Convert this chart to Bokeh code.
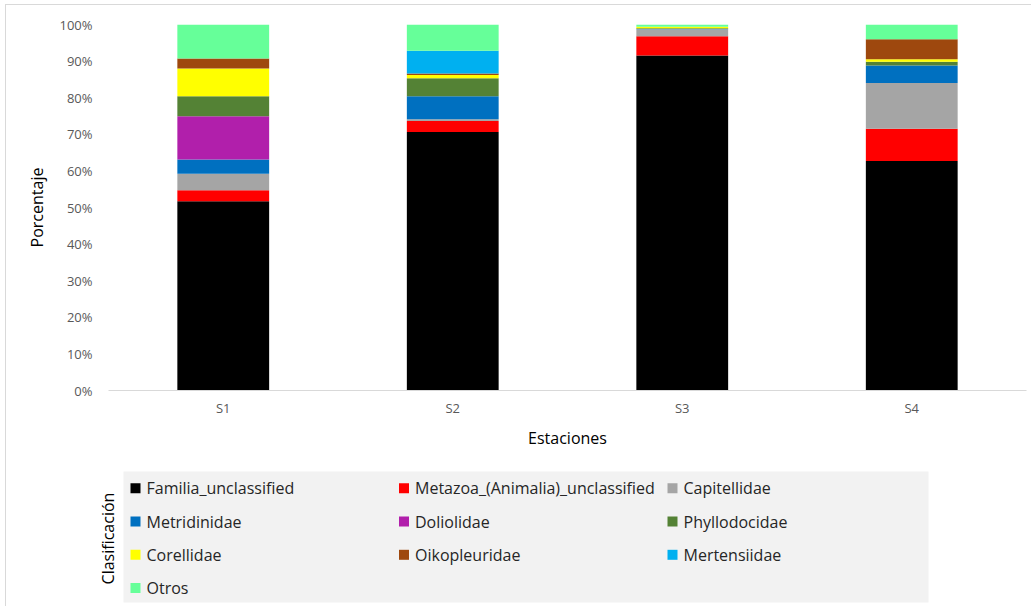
from bokeh.plotting import figure
from bokeh.layouts import column
from bokeh.models import (Label, PrintfTickFormatter, FixedTicker,
                          ColumnDataSource, Range1d, BoxAnnotation)
from bokeh.embed import file_html
from bokeh.resources import INLINE

# Stations and their composition (% of reads) by family
stations = ["S1", "S2", "S3", "S4"]
families = [
    "Familia_unclassified",
    "Metazoa_(Animalia)_unclassified",
    "Capitellidae",
    "Metridinidae",
    "Doliolidae",
    "Phyllodocidae",
    "Corellidae",
    "Oikopleuridae",
    "Mertensiidae",
    "Otros",
]
familia_unclassified = [51.7, 70.6, 91.5, 62.7]
metazoa_unclassified = [3.0, 3.0, 5.3, 8.8]
capitellidae = [4.5, 0.5, 1.9, 12.5]
metridinidae = [3.9, 6.3, 0.1, 4.8]
doliolidae = [11.8, 0.0, 0.0, 0.0]
phyllodocidae = [5.5, 4.9, 0.2, 1.0]
corellidae = [7.6, 0.9, 0.4, 0.7]
oikopleuridae = [2.7, 0.4, 0.0, 5.5]
mertensiidae = [0.0, 6.2, 0.0, 0.0]
otros = [9.3, 7.2, 0.6, 4.0]

colors = ["#000000", "#ff0000", "#a5a5a5", "#0070c0", "#b11fab",
          "#548235", "#ffff00", "#9e480e", "#00b0f0", "#66ff99"]

series = [familia_unclassified, metazoa_unclassified, capitellidae, metridinidae,
          doliolidae, phyllodocidae, corellidae, oikopleuridae, mertensiidae, otros]
keys = [f"s{i}" for i in range(len(families))]
data = {"station": stations}
for k, vals in zip(keys, series):
    data[k] = vals
source = ColumnDataSource(data)

FONT = "Open Sans"
W = 1026

# ---- stacked bar chart ----
p = figure(
    x_range=stations, y_range=(0, 100),
    width=W, height=450,
    min_border_left=102, min_border_right=6,
    min_border_top=19, min_border_bottom=65,
    output_backend="svg", toolbar_location=None,
)
p.frame_align = False
p.outline_line_color = None
p.grid.grid_line_color = None

p.vbar_stack(keys, x="station", width=0.4, color=colors,
             line_color=None, source=source)

p.yaxis.ticker = FixedTicker(ticks=list(range(0, 101, 10)))
p.yaxis.formatter = PrintfTickFormatter(format="%d%%")
p.yaxis.axis_line_color = None
p.yaxis.major_tick_line_color = None
p.yaxis.minor_tick_line_color = None
p.yaxis.major_label_standoff = 10
p.yaxis.axis_label = "Porcentaje"
p.yaxis.axis_label_standoff = 8

p.xaxis.axis_line_color = "#d9d9d9"
p.xaxis.major_tick_line_color = None
p.xaxis.major_label_standoff = 2
p.xaxis.axis_label = "Estaciones"
p.xaxis.axis_label_standoff = 7

for ax in (p.xaxis, p.yaxis):
    ax.major_label_text_font = FONT
    ax.major_label_text_font_size = "13px"
    ax.major_label_text_color = "#595959"
    ax.axis_label_text_font = FONT
    ax.axis_label_text_font_size = "16px"
    ax.axis_label_text_font_style = "normal"
    ax.axis_label_text_color = "#000000"

# ---- legend panel (pixel coordinates, origin bottom-left) ----
LH = 152
lg = figure(
    width=W, height=LH,
    x_range=Range1d(0, W), y_range=Range1d(0, LH),
    x_axis_location=None, y_axis_location=None,
    min_border=0, output_backend="svg", toolbar_location=None,
)
lg.frame_align = False
lg.grid.grid_line_color = None
lg.outline_line_color = None

lg.add_layout(BoxAnnotation(left=117, right=922, bottom=5, top=136,
                            fill_color="#f2f2f2", fill_alpha=1.0,
                            line_color=None, level="underlay"))

NCOLS = 3
COL_W = 268.5
ROW_H = 33.3
sw_x = [129 + (i % NCOLS) * COL_W for i in range(len(families))]
sw_y = [119.3 - (i // NCOLS) * ROW_H for i in range(len(families))]
tx_x = [x + 11 for x in sw_x]

lg.rect(x=sw_x, y=sw_y, width=10, height=10,
        width_units="screen", height_units="screen",
        fill_color=colors, line_color=None)
lg.text(x=tx_x, y=sw_y, text=families,
        text_font={"value": FONT}, text_font_size="16px",
        text_color="#262626", text_baseline="middle", text_align="left")

lg.add_layout(Label(
    x=101.7, y=69, text="Clasificación", angle=90, angle_units="deg",
    text_align="center", text_baseline="middle",
    text_font=FONT, text_font_size="16px", text_color="#000000",
))

page = column(p, lg, spacing=0, margin=(5, 0, 0, 6),
              styles={"box-shadow": "-1px -1px 0 0 #d9d9d9"})

open("out.html", "w").write(file_html(page, INLINE))
